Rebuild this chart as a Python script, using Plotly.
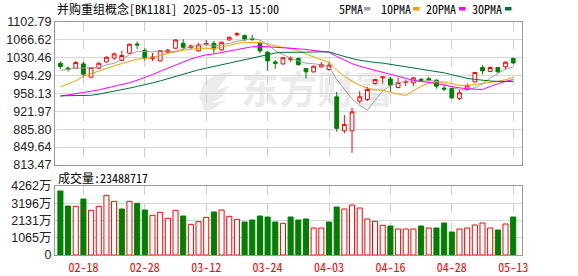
import plotly.graph_objects as go

# ---------------- data ----------------
dates = (["2025-02-%02d" % d for d in [13, 14, 17, 18, 19, 20, 21, 24, 25, 26, 27, 28]] +
         ["2025-03-%02d" % d for d in [3, 4, 5, 6, 7, 10, 11, 12, 13, 14, 17, 18, 19, 20, 21, 24, 25, 26, 27, 28, 31]] +
         ["2025-04-%02d" % d for d in [1, 2, 3, 7, 8, 9, 10, 11, 14, 15, 16, 17, 18, 21, 22, 23, 24, 25, 28, 29, 30]] +
         ["2025-05-%02d" % d for d in [6, 7, 8, 9, 12, 13]])

opens = [1019.4, 1009.5, 1009.3, 1018.0, 991.1, 1009.3, 1022.0, 1030.0, 1024.9, 1039.6,
         1058.4, 1045.7, 1029.0, 1024.0, 1041.6, 1049.7, 1059.8, 1051.0, 1044.5, 1057.0,
         1059.8, 1046.3, 1066.5, 1077.0, 1075.3, 1069.5, 1059.8, 1041.6, 1022.0, 1018.0,
         1027.0, 1028.9, 1008.7, 1001.9, 1012.0, 1006.7, 951.4, 882.7, 882.7, 942.7,
         946.0, 978.4, 990.0, 987.5, 970.3, 981.0, 979.6, 987.0, 988.0, 985.1,
         969.0, 968.3, 948.1, 966.3, 981.7, 1010.7, 1002.6, 1010.7, 1012.0, 1028.9]
highs = [1022.8, 1012.7, 1024.0, 1022.8, 1011.5, 1021.0, 1033.5, 1041.0, 1045.0, 1059.0,
         1063.2, 1049.5, 1040.0, 1046.0, 1048.5, 1067.5, 1067.9, 1057.0, 1060.0, 1066.5,
         1064.4, 1063.0, 1073.5, 1082.0, 1077.5, 1076.6, 1063.2, 1044.3, 1026.0, 1032.0,
         1033.5, 1031.0, 1010.0, 1014.5, 1022.0, 1022.0, 961.5, 914.4, 929.2, 962.9,
         971.6, 988.0, 992.0, 991.8, 989.7, 986.0, 991.8, 989.0, 992.0, 987.0,
         975.0, 969.5, 964.9, 978.4, 1002.0, 1015.4, 1013.0, 1012.0, 1023.0, 1030.5]
lows = [1007.9, 1002.6, 1008.0, 990.5, 989.1, 1008.0, 1021.0, 1026.0, 1023.5, 1038.5,
        1048.3, 1025.0, 1024.0, 1023.0, 1040.5, 1048.5, 1046.3, 1048.0, 1043.0, 1055.0,
        1039.6, 1045.0, 1065.0, 1073.5, 1064.4, 1064.4, 1039.6, 1003.9, 1008.0, 1016.5,
        1022.0, 1014.0, 988.5, 1000.5, 1011.0, 1004.0, 880.7, 877.5, 838.3, 938.0,
        943.0, 976.0, 978.0, 961.5, 968.5, 973.0, 973.0, 981.0, 982.0, 968.0,
        963.0, 947.0, 944.8, 965.0, 980.5, 996.6, 1001.5, 999.8, 1007.0, 1017.4]
closes = [1012.7, 1007.5, 1020.8, 997.2, 1010.7, 1019.4, 1031.5, 1038.2, 1035.0, 1057.8,
          1056.4, 1030.0, 1032.0, 1045.0, 1045.7, 1066.5, 1051.7, 1054.5, 1056.5, 1059.0,
          1048.3, 1061.8, 1071.9, 1079.0, 1068.5, 1067.5, 1044.3, 1024.0, 1019.0, 1030.5,
          1029.5, 1016.8, 1001.9, 1013.3, 1017.0, 1015.4, 887.6, 895.6, 921.0, 951.4,
          966.3, 986.5, 991.5, 975.0, 980.4, 982.0, 989.7, 984.5, 986.0, 972.9,
          967.0, 949.3, 959.5, 973.6, 1000.6, 1003.9, 1010.7, 1001.9, 1021.5, 1020.0]
prev_close = 1018.0  # close of the session before the first one shown

ma5 = [1004.7, 1007.5, 1009.0, 1009.5, 1009.8, 1011.1, 1015.9, 1019.4, 1027.0, 1036.4,
       1043.8, 1043.5, 1042.2, 1044.2, 1041.8, 1043.8, 1048.2, 1052.7, 1055.0, 1057.6,
       1054.0, 1056.0, 1059.5, 1064.0, 1065.9, 1069.7, 1066.2, 1056.7, 1044.7, 1037.1,
       1029.5, 1024.0, 1019.5, 1018.4, 1015.7, 1012.9, 986.6, 965.8, 947.3, 934.2,
       924.4, 944.2, 963.3, 974.1, 979.9, 983.1, 983.7, 982.3, 984.5, 983.0,
       978.0, 970.5, 966.0, 964.8, 970.0, 977.4, 989.7, 998.1, 1007.7, 1011.6]
ma10 = [971.6, 978.0, 983.7, 993.0, 998.6, 1003.9, 1008.7, 1014.0, 1018.8, 1023.1,
        1027.5, 1029.7, 1030.8, 1035.6, 1039.1, 1043.8, 1045.8, 1047.5, 1049.6, 1049.7,
        1048.9, 1052.1, 1056.1, 1059.5, 1061.8, 1061.9, 1061.1, 1058.1, 1054.3, 1051.5,
        1049.6, 1045.1, 1038.1, 1031.5, 1026.4, 1021.2, 1005.5, 992.7, 982.9, 975.0,
        968.6, 965.6, 964.6, 960.7, 957.1, 953.7, 963.9, 972.8, 979.3, 981.5,
        981.6, 977.8, 974.6, 974.5, 976.5, 978.7, 980.8, 982.5, 986.1, 990.8]
ma20 = [952.8, 955.0, 957.5, 960.0, 962.8, 965.5, 968.8, 972.2, 975.6, 980.0,
        985.0, 990.0, 996.5, 1003.0, 1009.5, 1016.0, 1022.5, 1028.0, 1032.5, 1036.4,
        1038.2, 1040.9, 1043.5, 1047.5, 1050.4, 1052.8, 1053.5, 1052.8, 1052.0, 1050.6,
        1049.3, 1048.6, 1047.1, 1045.5, 1044.1, 1041.5, 1033.3, 1025.4, 1018.6, 1013.2,
        1009.1, 1005.4, 1001.3, 996.1, 991.7, 987.5, 984.7, 982.7, 981.1, 978.2,
        975.1, 971.7, 969.6, 967.6, 966.8, 966.2, 972.4, 977.7, 982.7, 986.1]
ma30 = [953.4, 953.4, 953.2, 953.0, 954.5, 956.8, 959.5, 962.5, 965.5, 969.0,
        972.5, 975.6, 979.5, 983.5, 988.0, 993.0, 998.0, 1002.0, 1006.0, 1009.5,
        1013.0, 1016.0, 1019.5, 1023.5, 1027.5, 1031.0, 1034.5, 1037.5, 1040.0, 1041.4,
        1042.0, 1042.3, 1041.7, 1042.2, 1042.4, 1042.3, 1037.5, 1032.7, 1028.9, 1025.4,
        1022.4, 1020.9, 1019.6, 1017.3, 1015.1, 1012.3, 1010.2, 1007.9, 1005.5, 1002.6,
        999.9, 996.2, 992.4, 988.9, 986.7, 984.5, 983.4, 982.7, 982.8, 982.4]

volume_wan = [3953, 3027, 3006, 3459, 2759, 3006, 3686, 3315, 2841, 3315,
              3191, 2780, 2450, 2636, 2265, 2759, 2409, 1894, 2059, 2327,
              2656, 2780, 2388, 2203, 2038, 2162, 2409, 2347, 2038, 1956,
              2347, 2162, 2224, 1668, 1668, 2038, 2965, 2841, 3089, 2903,
              2224, 2080, 1832, 1791, 1606, 1606, 1606, 1791, 1668, 1668,
              1977, 1421, 1606, 1668, 1853, 1977, 1668, 1544, 1915, 2349]

price_ticks = [813.47, 849.64, 885.80, 921.97, 958.13, 994.29, 1030.46, 1066.62, 1102.79]
vol_ticks = [0, 1065, 2131, 3196, 4262]
vol_tick_text = ["0", "1065万", "2131万", "3196万", "4262万"]
tick_dates = ["02-18", "02-28", "03-12", "03-24", "04-03", "04-16", "04-28", "05-13"]
ma_names = ["5PMA", "10PMA", "20PMA", "30PMA"]
title_text = "并购重组概念[BK1181] 2025-05-13 15:00"
vol_title = "成交量:23488717"
watermark = "东方财富"

# ---------------- style / geometry ----------------
W, H = 578, 276
ML, MR, MT, MB = 55, 56, 22, 21
PW, PH = W - ML - MR, H - MT - MB
RED, GREEN = "#ff0000", "#008000"
MA_COLORS = ["#a0a0a0", "#f5a000", "#ff00ff", "#00703a"]
MONO = "Noto Sans Mono CJK SC, Noto Sans CJK SC, monospace"
SANS = "Liberation Sans, Arial, Noto Sans CJK SC, sans-serif"
WM_COLOR = "#ebebeb"


def px_x(px):
    return (px - ML) / PW


def px_y(py):
    return (H - MB - py) / PH


x = list(range(len(dates)))
short = [d[5:] for d in dates]
tickvals = [short.index(t) for t in tick_dates]

vol_up = [(closes[i] >= (closes[i - 1] if i > 0 else prev_close)) for i in range(len(closes))]

fig = go.Figure()
fig.add_trace(go.Candlestick(
    x=x, open=opens, high=highs, low=lows, close=closes,
    increasing=dict(line=dict(color=RED, width=1), fillcolor="#ffffff"),
    decreasing=dict(line=dict(color=GREEN, width=1), fillcolor=GREEN),
    whiskerwidth=0, xaxis="x", yaxis="y", showlegend=False, hoverinfo="skip"))

for vals, col in zip([ma5, ma10, ma20, ma30], MA_COLORS):
    fig.add_trace(go.Scatter(x=x, y=vals, mode="lines", line=dict(color=col, width=1),
                             xaxis="x", yaxis="y", showlegend=False, hoverinfo="skip"))

fig.add_trace(go.Bar(
    x=x, y=volume_wan, xaxis="x2", yaxis="y2", showlegend=False, hoverinfo="skip",
    marker=dict(color=["#ffffff" if u else GREEN for u in vol_up],
                line=dict(color=[RED if u else GREEN for u in vol_up], width=1))))

span = 59 / ((513.2 - ML) / PW - (60.4 - ML) / PW)
xmin = -((60.4 - ML) / PW) * span
xr = [xmin, xmin + span]

axis_common = dict(showline=True, mirror=True, linecolor="#9a9a9a", linewidth=1,
                   zeroline=False, ticks="", fixedrange=True, automargin=False)

fig.update_layout(
    width=W, height=H, margin=dict(l=ML, r=MR, t=MT, b=MB, autoexpand=False),
    paper_bgcolor="white", plot_bgcolor="white", bargap=0.34, boxgap=0.3,
    xaxis=dict(domain=[0, 1], anchor="y", range=xr, tickvals=tickvals, showticklabels=False,
               showgrid=True, gridcolor="#cfcfcf", griddash="dash", gridwidth=1,
               rangeslider=dict(visible=False), **axis_common),
    yaxis=dict(domain=[px_y(165), 1], anchor="x", range=[price_ticks[0], price_ticks[-1]],
               tickvals=price_ticks, ticktext=["%.2f" % v for v in price_ticks],
               showgrid=True, gridcolor="#d8d8d8", gridwidth=1,
               tickfont=dict(family=SANS, size=12.5, color="#222"), **axis_common),
    xaxis2=dict(domain=[0, 1], anchor="y2", range=xr, tickvals=tickvals, ticktext=tick_dates,
                showgrid=True, gridcolor="#cfcfcf", griddash="dash", gridwidth=1,
                ticklabelstandoff=2,
                tickfont=dict(family=MONO, size=12, color=RED), **axis_common),
    yaxis2=dict(domain=[0, px_y(186)], anchor="x2", range=[0, vol_ticks[-1]],
                tickvals=vol_ticks, ticktext=vol_tick_text,
                showgrid=True, gridcolor="#d8d8d8", gridwidth=1,
                tickfont=dict(family=SANS, size=12.5, color="#222"), **axis_common),
)

annos = [
    dict(text=title_text, x=px_x(56), y=px_y(9), xanchor="left", yanchor="middle",
         font=dict(family=MONO, size=12, color="#000")),
    dict(text=vol_title, x=px_x(56.5), y=px_y(177.5), xanchor="left", yanchor="middle",
         font=dict(family=MONO, size=12, color="#000")),
]
legend_text_px = [337.5, 379.5, 425, 471]
legend_sq_px = [364, 413, 459, 505]
for name, tx, sx, col in zip(ma_names, legend_text_px, legend_sq_px, MA_COLORS):
    annos.append(dict(text=name, x=px_x(tx), y=px_y(9), xanchor="left", yanchor="middle",
                      font=dict(family=MONO, size=12, color="#000")))
    fig.add_shape(type="rect", xref="paper", yref="paper", x0=px_x(sx), x1=px_x(sx + 6.5),
                  y0=px_y(10.5), y1=px_y(7), fillcolor=col, line=dict(width=0), layer="above")
for a in annos:
    a.update(xref="paper", yref="paper", showarrow=False, borderpad=0)
    fig.add_annotation(**a)

# watermark (behind everything): logo + text
logo_pts = [(205, 112), (199, 96), (204, 82), (217, 74), (233, 72), (224, 80), (217, 90),
            (229, 86), (222, 97), (212, 103), (226, 100), (215, 108)]
path = "M " + " L ".join("%.4f,%.4f" % (px_x(a), px_y(b)) for a, b in logo_pts) + " Z"
fig.add_shape(type="path", xref="paper", yref="paper", path=path,
              fillcolor=WM_COLOR, line=dict(width=0), layer="below")
fig.add_shape(type="rect", xref="paper", yref="paper",
              x0=px_x(238), x1=px_x(396), y0=px_y(113), y1=px_y(72),
              line=dict(width=0), fillcolor="rgba(0,0,0,0)", layer="below",
              label=dict(text=watermark, textposition="middle center",
                         font=dict(family="Noto Sans CJK SC", size=38, color=WM_COLOR, weight="bold")))

fig.write_html("out.html", config={"displayModeBar": False})
